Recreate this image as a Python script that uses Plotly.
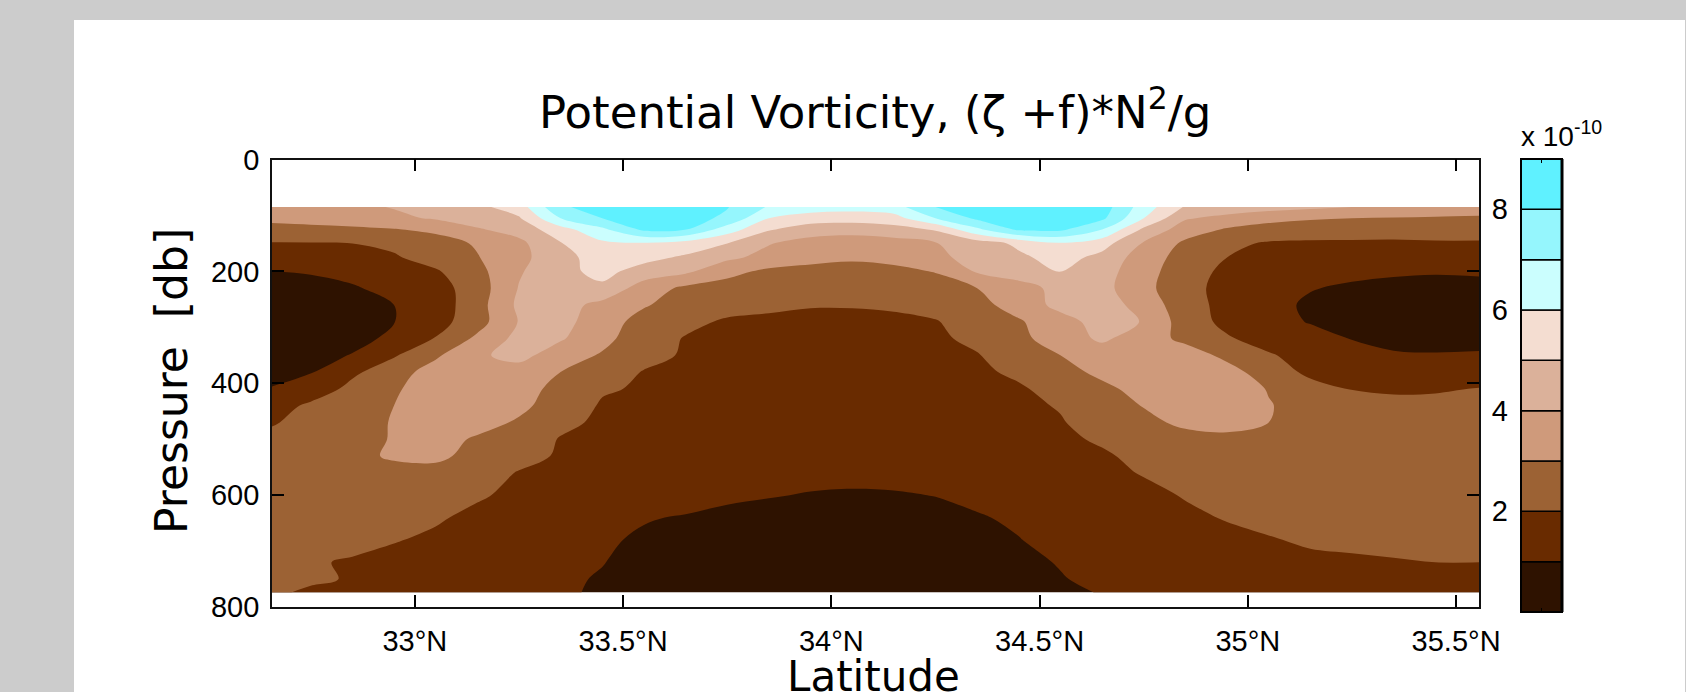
import plotly.graph_objects as go

# ---------------- data ----------------
lats = [32.657, 32.75, 32.85, 32.95, 33.05, 33.15, 33.25, 33.35, 33.45, 33.55,
        33.65, 33.75, 33.85, 33.95, 34.05, 34.15, 34.25, 34.35, 34.45, 34.55,
        34.65, 34.75, 34.85, 34.95, 35.05, 35.15, 35.25, 35.35, 35.45, 35.555]

pressures = [85, 105, 125, 150, 175, 200, 230, 260, 290, 320, 350, 380,
             410, 440, 470, 500, 530, 560, 600, 640, 680, 720, 750, 774]

# potential vorticity, units of 1e-10
pv = [
    [3.5,3.65,3.8,4.05,4.35,4.75,5.5,7.9,8.3,8.5,8.5,8.05,6.9,6.5,6.4,6.6,8.0,8.4,8.6,8.6,8.5,6.5,4.9,4.6,4.4,4.2,4.0,3.8,3.6,3.5],
    [3.3,3.4,3.55,3.8,4.1,4.5,4.9,7.0,8.0,8.4,8.4,7.8,6.0,5.5,5.4,5.6,7.0,8.2,8.5,8.5,8.2,6.0,4.1,3.7,3.3,3.1,3.0,2.95,2.9,2.85],
    [2.6,2.7,2.8,2.95,3.2,3.9,4.4,5.6,6.8,8.2,8.05,6.5,5.1,4.5,4.4,4.6,5.1,6.8,8.2,8.2,7.0,4.8,3.5,2.9,2.6,2.5,2.45,2.4,2.4,2.4],
    [1.95,1.95,2.0,2.2,2.6,3.1,3.75,4.95,5.8,5.9,5.6,5.0,4.05,3.6,3.45,3.6,3.95,4.5,5.2,5.9,5.4,3.9,2.8,2.2,1.9,1.85,1.85,1.85,1.9,1.9],
    [1.55,1.6,1.7,1.9,2.4,2.95,3.7,4.7,5.4,5.3,4.85,4.2,3.7,3.3,3.15,3.3,3.8,4.3,4.8,5.4,4.7,3.5,2.6,2.0,1.7,1.6,1.5,1.45,1.45,1.5],
    [1.0,1.1,1.3,1.55,1.9,2.7,3.9,4.7,5.3,4.6,4.2,3.3,2.8,2.7,2.65,2.75,3.05,4.1,4.5,5.05,4.4,3.4,2.4,1.8,1.5,1.3,1.25,1.15,1.1,1.15],
    [0.5,0.6,0.9,1.3,1.6,2.5,4.05,4.6,4.8,3.5,2.8,2.6,2.4,2.25,2.2,2.3,2.55,3.0,3.6,4.3,4.3,3.3,2.3,1.7,1.4,1.05,0.85,0.7,0.6,0.65],
    [0.3,0.35,0.6,1.0,1.45,2.6,4.2,4.4,3.7,3.1,2.5,2.3,2.15,2.05,2.05,2.1,2.3,2.7,3.4,4.3,4.5,3.6,2.4,1.7,1.3,0.85,0.6,0.45,0.4,0.45],
    [0.3,0.3,0.45,0.98,1.6,2.6,4.05,4.3,3.5,2.6,2.2,1.9,1.85,1.8,1.8,1.85,1.95,2.4,2.9,3.6,4.4,3.95,2.5,1.75,1.3,0.95,0.6,0.4,0.35,0.4],
    [0.4,0.45,0.7,1.2,2.05,3.2,4.3,4.1,3.3,2.4,1.95,1.85,1.75,1.7,1.7,1.75,1.85,2.2,2.8,3.4,4.2,3.4,2.8,2.1,1.6,1.3,0.97,0.6,0.5,0.55],
    [0.5,0.65,1.05,1.9,2.85,3.85,4.3,3.5,2.9,2.3,1.9,1.8,1.7,1.65,1.65,1.7,1.8,1.95,2.5,3.0,3.4,3.6,3.4,2.8,2.1,1.6,1.3,1.15,1.1,1.15],
    [0.7,0.95,1.8,2.6,3.4,3.9,3.6,3.0,2.5,1.95,1.85,1.75,1.65,1.6,1.6,1.65,1.75,1.85,2.15,2.7,3.2,3.6,3.6,3.3,2.6,1.75,1.4,1.25,1.2,1.25],
    [1.05,1.35,2.3,2.9,3.4,3.6,3.4,2.7,2.1,1.9,1.8,1.7,1.6,1.55,1.55,1.6,1.7,1.8,1.9,2.3,2.8,3.3,3.6,3.5,2.95,2.4,1.95,1.8,1.85,2.05],
    [1.5,2.2,2.6,3.0,3.3,3.5,3.2,2.6,1.9,1.85,1.75,1.65,1.55,1.5,1.5,1.55,1.65,1.75,1.85,2.05,2.5,3.05,3.5,3.5,3.05,2.65,2.5,2.4,2.4,2.4],
    [1.9,2.4,2.7,3.05,3.4,3.3,2.9,2.2,1.85,1.8,1.7,1.6,1.5,1.45,1.45,1.5,1.6,1.7,1.8,1.95,2.3,2.7,3.25,3.35,3.0,2.65,2.55,2.5,2.5,2.5],
    [2.3,2.5,2.75,3.05,3.3,2.9,2.5,1.95,1.8,1.7,1.6,1.5,1.45,1.4,1.4,1.45,1.5,1.6,1.7,1.85,2.1,2.3,2.6,2.75,2.65,2.5,2.45,2.4,2.4,2.4],
    [2.4,2.55,2.8,3.1,3.2,2.7,2.3,1.9,1.75,1.65,1.55,1.45,1.4,1.35,1.35,1.4,1.45,1.55,1.65,1.75,1.9,2.2,2.4,2.5,2.5,2.45,2.45,2.45,2.45,2.45],
    [2.4,2.5,2.6,2.75,2.7,2.4,1.95,1.75,1.65,1.55,1.45,1.35,1.3,1.25,1.25,1.3,1.35,1.45,1.55,1.65,1.8,2.05,2.3,2.4,2.4,2.4,2.4,2.4,2.4,2.4],
    [2.35,2.4,2.45,2.5,2.4,2.1,1.8,1.6,1.5,1.4,1.3,1.15,1.05,0.95,0.9,0.92,1.02,1.15,1.3,1.45,1.6,1.8,2.05,2.2,2.3,2.35,2.35,2.35,2.35,2.35],
    [2.3,2.3,2.3,2.2,2.1,1.8,1.6,1.4,1.25,1.05,0.95,0.8,0.7,0.65,0.6,0.65,0.75,0.95,1.1,1.3,1.5,1.7,1.85,2.05,2.2,2.25,2.3,2.3,2.3,2.3],
    [2.25,2.2,2.15,2.05,1.85,1.65,1.45,1.25,1.1,0.9,0.75,0.6,0.55,0.5,0.5,0.5,0.55,0.7,0.98,1.2,1.35,1.5,1.65,1.8,1.95,2.1,2.15,2.2,2.2,2.2],
    [2.2,2.05,1.95,1.75,1.55,1.4,1.3,1.15,1.02,0.8,0.6,0.5,0.45,0.4,0.4,0.4,0.45,0.55,0.8,1.05,1.3,1.45,1.55,1.65,1.75,1.85,1.9,1.95,2.0,2.0],
    [2.15,2.1,1.95,1.7,1.5,1.35,1.25,1.1,0.95,0.7,0.5,0.4,0.35,0.35,0.35,0.35,0.4,0.5,0.7,0.95,1.2,1.35,1.45,1.55,1.6,1.65,1.7,1.75,1.75,1.75],
    [2.1,1.9,1.6,1.45,1.35,1.3,1.2,1.1,0.9,0.65,0.5,0.4,0.35,0.3,0.3,0.3,0.35,0.45,0.6,0.8,1.05,1.25,1.35,1.45,1.5,1.55,1.6,1.6,1.6,1.6],
]

levels = [0, 1, 2, 3, 4, 5, 6, 7, 8, 9]
level_colors = ['#2e1200', '#692b00', '#9c6234', '#cf9a7b', '#dbb19a',
                '#f4ddd1', '#cbfefe', '#95f6fd', '#5ff1ff']

lat_ticks = [33.0, 33.5, 34.0, 34.5, 35.0, 35.5]
lat_labels = ['33°N', '33.5°N', '34°N', '34.5°N', '35°N', '35.5°N']
p_ticks = [0, 200, 400, 600, 800]
cb_ticks = [2, 4, 6, 8]

# ---------------- figure ----------------
W, H = 1686, 692
TICKFONT = 'Liberation Sans, Arial, sans-serif'
LABELFONT = 'DejaVu Sans, Verdana, sans-serif'

n = len(level_colors)
# step colorscale for filled contour bands (band k sampled at k/(n-1))
cs = []
for k, c in enumerate(level_colors):
    lo = max(0.0, (k - 0.5) / (n - 1))
    hi = min(1.0, (k + 0.5) / (n - 1))
    cs.append([lo, c])
    cs.append([hi, c])

fig = go.Figure()

fig.add_trace(go.Contour(
    x=lats, y=pressures, z=pv,
    colorscale=cs, showscale=False,
    contours=dict(start=levels[1], end=levels[-2], size=1,
                  coloring='fill', showlines=False),
    line=dict(width=0, smoothing=1.0),
    hoverinfo='skip',
    xaxis='x', yaxis='y'))

# colour bar drawn as stacked blocks
fig.add_trace(go.Bar(
    x=[0] * n, y=[levels[i + 1] - levels[i] for i in range(n)],
    base=levels[:-1], width=1,
    marker=dict(color=level_colors, line=dict(color='black', width=1.5)),
    hoverinfo='skip', showlegend=False,
    xaxis='x2', yaxis='y2'))

px2x = lambda p: p / W
py2y = lambda p: 1 - p / H

tickfont = dict(family=TICKFONT, size=29, color='black')

fig.update_layout(
    width=W, height=H,
    margin=dict(l=0, r=0, t=0, b=0, pad=0, autoexpand=False),
    paper_bgcolor='#cccccc', plot_bgcolor='white',
    showlegend=False,
    xaxis=dict(domain=[px2x(272), px2x(1479)], range=[32.657, 35.555],
               tickvals=lat_ticks, ticktext=lat_labels,
               ticks='inside', ticklen=12, tickwidth=1.5, tickcolor='black',
               showline=True, linecolor='#111111', linewidth=1.8, mirror='ticks',
               showgrid=False, zeroline=False, tickfont=tickfont,
               ticklabelstandoff=7),
    yaxis=dict(domain=[py2y(607), py2y(159.5)], range=[800, 0],
               tickvals=p_ticks,
               ticks='inside', ticklen=12, tickwidth=1.5, tickcolor='black',
               showline=True, linecolor='#111111', linewidth=1.8, mirror='ticks',
               showgrid=False, zeroline=False, tickfont=tickfont,
               ticklabelstandoff=5),
    xaxis2=dict(domain=[px2x(1521), px2x(1562)], range=[-0.5, 0.5],
                anchor='y2', showticklabels=False, showgrid=False,
                zeroline=False, tickvals=[0], ticks='inside', ticklen=4,
                tickcolor='black', mirror='ticks', showline=False),
    yaxis2=dict(domain=[py2y(612), py2y(159)], range=[0, 9],
                anchor='x2', side='left', tickvals=cb_ticks, ticks='',
                showgrid=False, zeroline=False, showline=False,
                tickfont=tickfont, ticklabelstandoff=12),
    shapes=[
        dict(type='rect', xref='paper', yref='paper', layer='below',
             x0=px2x(74), x1=px2x(1685), y0=0, y1=py2y(20),
             fillcolor='white', line=dict(width=0)),
        dict(type='rect', xref='x2 domain', yref='y2 domain',
             x0=0, x1=1, y0=0, y1=1, line=dict(color='black', width=2)),
        dict(type='line', xref='x2 domain', yref='y2 domain',
             x0=1, x1=1, y0=0, y1=1, line=dict(color='black', width=3)),
    ],
    annotations=[
        dict(text='Potential Vorticity, (ζ +f)*N<sup>2</sup>/g',
             xref='paper', yref='paper', x=px2x(875), y=py2y(109),
             xanchor='center', yanchor='middle', showarrow=False,
             font=dict(family=LABELFONT, size=45, color='black')),
        dict(text='Pressure  [db]', textangle=-90,
             xref='paper', yref='paper', x=px2x(171), y=py2y(381),
             xanchor='center', yanchor='middle', showarrow=False,
             font=dict(family=LABELFONT, size=44, color='black')),
        dict(text='Latitude',
             xref='paper', yref='paper', x=px2x(873), y=py2y(676),
             xanchor='center', yanchor='middle', showarrow=False,
             font=dict(family=LABELFONT, size=42, color='black')),
        dict(text='x 10<sup>-10</sup>',
             xref='paper', yref='paper', x=px2x(1519), y=py2y(134),
             xanchor='left', yanchor='middle', showarrow=False,
             font=dict(family=TICKFONT, size=28, color='black')),
    ],
)

fig.write_html('out.html')
